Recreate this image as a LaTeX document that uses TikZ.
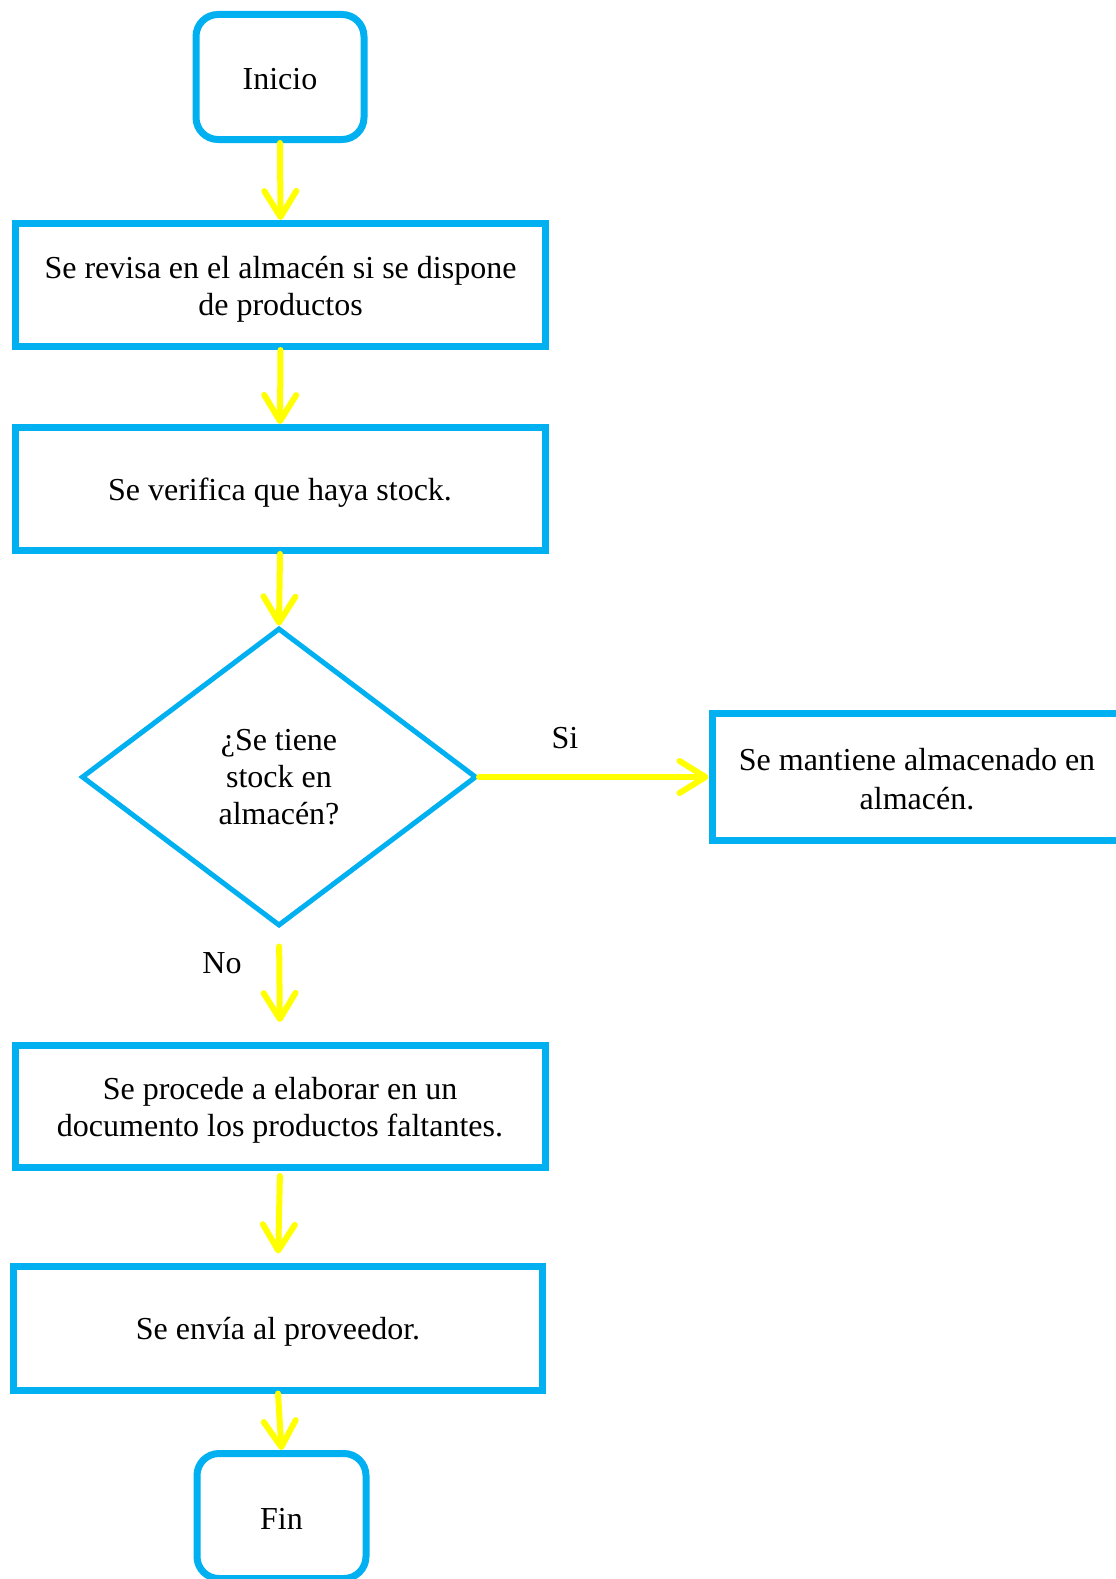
\documentclass[tikz,border=0pt]{standalone}
\usepackage{fontspec}
\setmainfont{Liberation Serif}
\usetikzlibrary{shapes.geometric,arrows.meta}
\definecolor{bl}{HTML}{00B0F0}
\definecolor{yl}{HTML}{FFFF00}
\newcommand\fs{\fontsize{32}{37}\selectfont}
\newcommand\lift[1]{\rule{0pt}{#1}}
\begin{document}
\begin{tikzpicture}[x=1pt,y=-1pt,
  box/.style={draw=bl,line width=7pt,rectangle,minimum width=530pt,minimum height=123pt,inner sep=0pt,align=center,font=\fs},
  term/.style={draw=bl,line width=7pt,rounded corners=22pt,rectangle,minimum width=168pt,minimum height=125pt,inner sep=0pt,font=\fs},
  dec/.style={draw=bl,line width=5pt,diamond,minimum width=395pt,minimum height=298pt,inner sep=0pt,align=center,font=\fs},
  arr/.style={draw=yl,line width=6pt,line cap=round,-{Straight Barb[length=26pt,width=32pt,round]}},
  lbl/.style={font=\fs,inner sep=0pt}]
\useasboundingbox (0,0) rectangle (1116,1579);
\clip (0,0) rectangle (1116,1579);
\node[term] (ini) at (280,77) {\lift{26pt}Inicio};
\node[box] (b1) at (280.5,285) {\lift{30pt}Se revisa en el almacén si se dispone\\de productos};
\node[box] (b2) at (280,489) {\lift{30pt}Se verifica que haya stock.};
\node[dec] (d) at (279,777) {¿Se tiene\\stock en\\almacén?};
\node[box,minimum width=410pt,minimum height=127pt,font=\fontsize{32}{39}\selectfont] (r) at (917,777) {\lift{27pt}Se mantiene almacenado en\\almacén.};
\node[box,minimum height=122pt] (b3) at (280,1106.5) {\lift{30pt}Se procede a elaborar en un\\documento los productos faltantes.};
\node[box,minimum width=529pt,minimum height=124pt] (b4) at (278,1328) {\lift{30pt}Se envía al proveedor.};
\node[term,minimum width=169pt] (fin) at (281.5,1516) {\lift{26pt}Fin};
\draw[arr] (ini.south) -- (b1.north);
\draw[arr] (b1.south) -- (b2.north);
\draw[arr] (b2.south) -- (d.north);
\draw[arr] (d.east) -- (r.west);
\draw[arr,shorten <=18pt,shorten >=20pt] (d.south) -- (b3.north);
\draw[arr,shorten <=5pt,shorten >=9pt] (b3.south) -- (b4.north);
\draw[arr] (b4.south) -- (fin.north);
\node[lbl] (si) at (565,738) {Si};
\node[lbl] (no) at (222,963) {No};
\end{tikzpicture}
\end{document}
